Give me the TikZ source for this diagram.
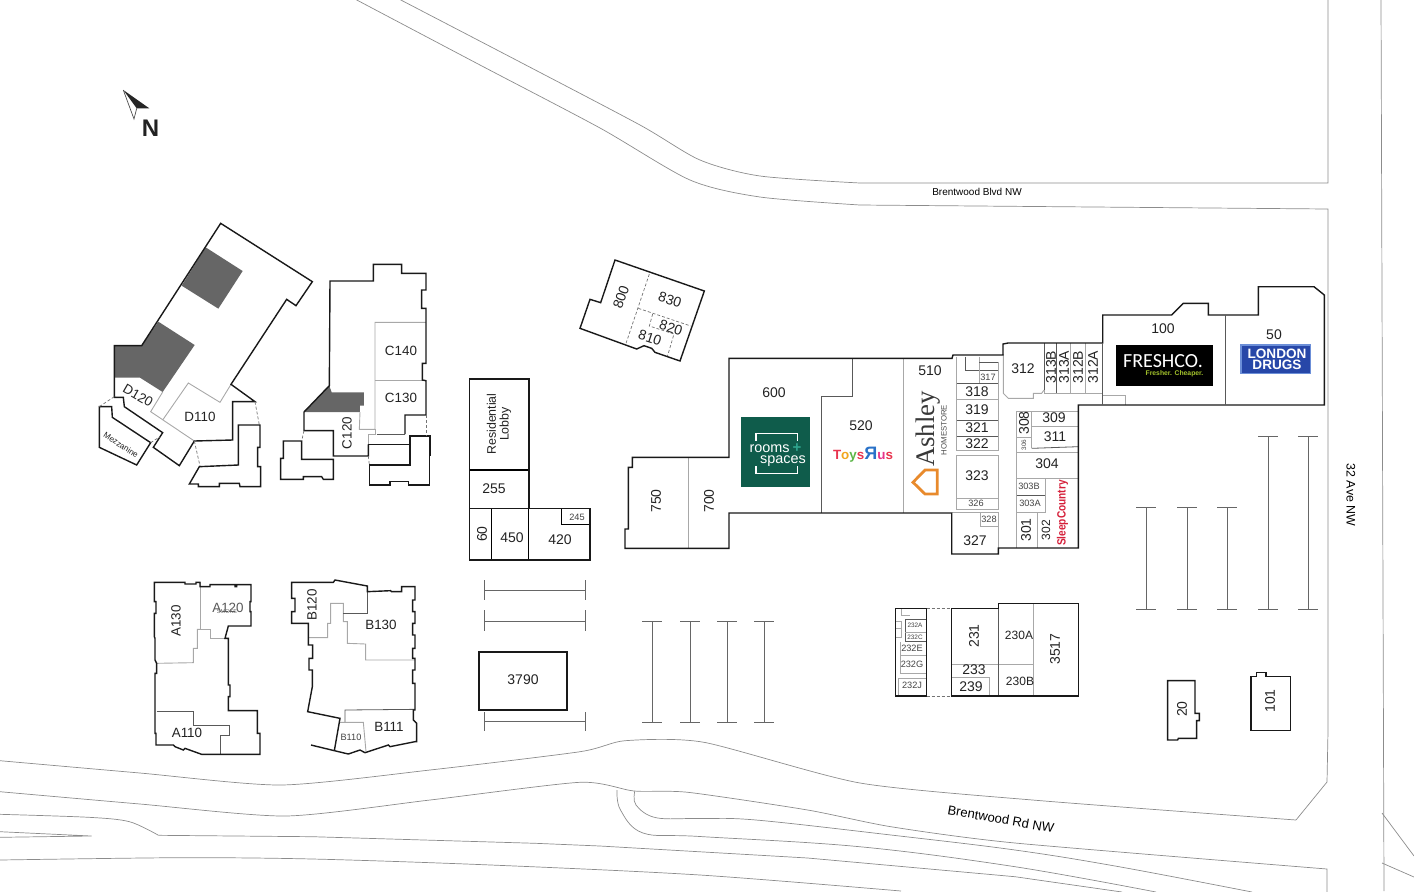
\documentclass[tikz,border=0pt]{standalone}
\usepackage{fontspec}
\usepackage{graphicx}
\setmainfont{Liberation Sans}
\newfontfamily\carl{Carlito}
\newfontfamily\srf{Liberation Serif}
\definecolor{ink}{HTML}{222222}
\definecolor{partgrey}{HTML}{A8A8A8}
\definecolor{roadgrey}{HTML}{8C8C8C}
\definecolor{darkarea}{HTML}{666666}
\definecolor{rsgreen}{HTML}{0F5C4B}
\definecolor{rsplus}{HTML}{2FA58E}
\definecolor{ldblue}{HTML}{2747A8}
\definecolor{ldedge}{HTML}{6C8FD8}
\definecolor{ashorange}{HTML}{E88A2C}
\definecolor{lime}{HTML}{A4C32C}
\definecolor{sleepred}{HTML}{D5203A}
\tikzset{
  wall/.style={draw=black!90,line width=0.7pt,line join=miter},
  wallt/.style={draw=black,line width=0.55pt},
  part/.style={draw=partgrey,line width=0.45pt},
  partd/.style={draw=black!65,line width=0.4pt},
  dashl/.style={draw=black!55,line width=0.35pt,dashed,dash pattern=on 1.5pt off 1pt},
  road/.style={draw=roadgrey,line width=0.35pt},
  bay/.style={draw=black!60,line width=0.35pt},
  lb/.style={text=ink,inner sep=0pt,font=\fontsize{7}{8}\selectfont},
  lk/.style={text=ink,inner sep=0pt,font=\fontsize{6.7}{8}\selectfont},
  lm/.style={text=ink,inner sep=0pt,font=\fontsize{6}{7}\selectfont},
  ls/.style={text=ink!85,inner sep=0pt,font=\fontsize{4.6}{5}\selectfont},
  lt/.style={text=ink!85,inner sep=0pt,font=\fontsize{3.2}{4}\selectfont},
  rd/.style={text=black,inner sep=0pt,font=\fontsize{5}{6}\selectfont},
}
\begin{document}
\begin{tikzpicture}[x=0.5pt,y=-0.5pt]
\useasboundingbox (0,0) rectangle (1414,891);
\begin{scope}
\clip (0,0) rectangle (1414,891);
% roads top
\draw[road] plot[smooth,tension=0.45] coordinates {(397,-2) (520,62) (640,125) (700,160) (760,176) (860,183)} -- (1328,183) -- (1328,0);
\draw[road] plot[smooth,tension=0.45] coordinates {(353,-2) (480,65) (600,128) (690,180) (760,197) (860,205)} -- (1328,209) -- (1328,731) -- (1327,782) -- (1296,820);
% roads bottom
\draw[road] plot[smooth,tension=0.4] coordinates {(0,760.7) (140,773) (281,785) (430,770) (580,751.7) (625,740.7) (704,742.3) (860,783) (1041,800.7) (1296,820)};
\draw[road] plot[smooth,tension=0.4] coordinates {(0,791.7) (140,804) (285.7,816) (430,800) (580,782.3) (634,791) (688,792.3) (807.7,810) (890.8,826.7) (1015,843) (1327,869)} -- (1327,892);
\draw[road] plot[smooth,tension=0.6] coordinates {(634.8,791) (636,805) (656,817.7) (700,818.5) (756,820) (891,835) (1015,850) (1119,866.7) (1252,892)};
\draw[road] plot[smooth,tension=0.6] coordinates {(617,790) (620.5,810) (643,833) (700,836.5) (859.6,846.7) (1015,866.7) (1156,892)};
\draw[road] plot[smooth,tension=0.5] coordinates {(0,814.3) (89,817.3) (129.5,821.7) (158.5,835.3)};
\draw[road] (158.5,835.3) -- (312.5,836.7) -- (535.7,843.3) -- (600,846) -- (807.7,858) -- (1015,876.7) -- (1122,892);
\draw[road] plot[smooth,tension=0.5] coordinates {(0,860) (178.6,857.7) (312.5,859) (491,865) (700,875) (901,891)};
\draw[road] (0,831.7) -- (91.5,836) -- (0,837.3);
\draw[road] (1381,0) -- (1384,891);
\draw[road] (1382,813) -- (1414,856);
\draw[road] (1382,863) -- (1414,877);
% parking bays
\foreach \y/\a/\b in {590/580/600,621/610/631,721/712/731}{
  \draw[bay] (484,\y) -- (585,\y);
  \draw[bay] (484,\a) -- (484,\b);
  \draw[bay] (585,\a) -- (585,\b);
}
\foreach \x in {652,690,727,764}{
  \draw[bay] (\x,621) -- (\x,722);
  \draw[bay] (\x-10,621) -- (\x+10,621);
  \draw[bay] (\x-10,722) -- (\x+10,722);
}
\foreach \x in {1146,1187,1227}{
  \draw[bay] (\x,507) -- (\x,609);
  \draw[bay] (\x-10,507) -- (\x+10,507);
  \draw[bay] (\x-10,609) -- (\x+10,609);
}
\foreach \x in {1268,1308}{
  \draw[bay] (\x,436) -- (\x,609);
  \draw[bay] (\x-10,436) -- (\x+10,436);
  \draw[bay] (\x-10,609) -- (\x+10,609);
}
\end{scope}
% north arrow
\fill[black!85] (123.3,90) -- (149.3,108.3) -- (136.7,108.3) -- cycle;
\draw[black!70,line width=0.35pt] (123.3,90) -- (134,119) -- (136.7,108.3);
\node[text=ink,inner sep=0pt,font=\fontsize{12}{12}\selectfont\bfseries] (north) at (150.5,128) {N};
% building D
\begin{scope}[shift={(90,210)},scale=1/3]
\fill[darkarea] (347,112) -- (458,183) -- (385,296) -- (275,227) -- cycle;
\fill[darkarea] (205,335) -- (314,405) -- (218,546) -- (150,503) -- (73,503) -- (73,407) -- (155,407) -- cycle;
\draw[part] (218,546) -- (182,605) -- (313,693);
\draw[part] (423,523) -- (390,577) -- (295,519) -- (218,630);
\draw[wall] (392,40) -- (667,215) -- (618,287) -- (590,268) -- (423,523) -- (495,575) -- (428,575) -- (428,690) -- (313,693) -- (268,767) -- (190,712) -- (218,668) -- (103,590) -- (100,562) -- (73,562) -- (73,407) -- (155,407) -- cycle;
\draw[wall] (28,590) -- (65,590) -- (67,622) -- (182,698) -- (140,765) -- (28,712) -- cycle;
\draw[dashl] (28,590) -- (73,560);
\draw[dashl] (182,698) -- (210,680);
\draw[dashl] (495,575) -- (508,645);
\draw[dashl] (313,693) -- (330,768);
\draw[wall] (445,645) -- (510,645) -- (510,712) -- (503,712) -- (503,770) -- (512,770) -- (512,830) -- (450,830) -- (448,820) -- (388,820) -- (388,830) -- (325,830) -- (325,822) -- (298,822) -- (328,770) -- (445,765) -- cycle;
% building C
\fill[darkarea] (718,527) -- (725,547) -- (822,547) -- (822,587) -- (810,587) -- (810,606) -- (642,606) -- cycle;
\draw[part] (810,606) -- (808,658) -- (855,658) -- (855,337) -- (1008,337);
\draw[part] (855,512) -- (1008,512);
\draw[part] (855,658) -- (855,672) -- (835,672) -- (835,703);
\draw[partd] (860,672) -- (945,672);
\draw[wall] (835,703) -- (835,738) -- (730,738) -- (730,662) -- (642,662) -- (642,606) -- (718,527) -- (720,213) -- (850,213) -- (850,163) -- (935,163) -- (935,190) -- (1008,190) -- (1008,240) -- (995,240) -- (995,295) -- (1008,295) -- (1008,460) -- (997,460) -- (997,510) -- (1008,512) -- (1008,615) -- (945,615) -- (945,672);
\draw[wall] (835,703) -- (960,703);
\draw[wall] (960,678) -- (1020,678) -- (1020,735) -- (1018,735) -- (1018,825) -- (955,825) -- (955,815) -- (900,815) -- (900,825) -- (838,825) -- (838,765) -- (960,765) -- cycle;
\draw[wall] (580,693) -- (635,693) -- (635,748) -- (730,748) -- (730,808) -- (700,808) -- (695,800) -- (640,800) -- (640,808) -- (572,808) -- (572,745) -- (580,745) -- cycle;
\draw[dashl] (642,662) -- (635,693);
\draw[dashl] (835,738) -- (838,765);
\draw[dashl] (1008,615) -- (1008,678);
\end{scope}
% buildings A and B
\begin{scope}[shift={(140,570)},scale=1/3]
\draw[part] (180,37) -- (180,178) -- (210,178) -- (210,205) -- (255,205);
\draw[part] (180,178) -- (172,178) -- (172,235) -- (160,235) -- (160,278) -- (48,280);
\draw[partd] (50,423) -- (160,423) -- (160,465) -- (268,465) -- (268,495) -- (242,495) -- (242,553);
\draw[wall] (43,37) -- (135,37) -- (135,42) -- (168,42) -- (168,37) -- (180,37) -- (180,50) -- (210,50) -- (210,44) -- (285,44) -- (285,50) -- (290,50) -- (290,44) -- (333,44) -- (333,95) -- (330,95) -- (330,125) -- (333,125) -- (333,168) -- (265,168) -- (255,205) -- (265,205) -- (265,345) -- (270,345) -- (270,380) -- (265,380) -- (265,422) -- (352,422) -- (352,490) -- (360,490) -- (360,553) -- (185,553) -- (135,535) -- (130,540) -- (105,530) -- (100,525) -- (48,525) -- (48,490) -- (45,490) -- (45,310) -- (50,310) -- (50,280) -- (45,270) -- (45,205) -- (43,200) -- (43,130) -- (48,130) -- (48,95) -- (43,95) -- cycle;
\draw[part] (505,203) -- (563,203) -- (563,160) -- (572,160) -- (572,100) -- (610,100) -- (610,155) -- (622,155) -- (622,220) -- (677,222) -- (677,270) -- (825,270);
\draw[partd] (610,130) -- (682,130) -- (682,65);
\draw[partd] (615,457) -- (615,420) -- (825,418);
\draw[part] (600,457) -- (670,457) -- (678,545);
\draw[wall] (513,525) -- (583,542) -- (625,552) -- (660,540) -- (675,548) -- (745,525) -- (750,530) -- (825,515) -- (830,515) -- (830,460) -- (820,450) -- (820,420) -- (825,420) -- (825,340) -- (818,340) -- (818,300) -- (825,300) -- (825,265) -- (818,265) -- (818,235) -- (825,235) -- (825,195) -- (818,195) -- (818,160) -- (825,160) -- (825,125) -- (818,125) -- (818,90) -- (825,90) -- (825,50) -- (785,50) -- (785,65) -- (755,65) -- (752,62) -- (682,65) -- (682,48) -- (585,30) -- (580,37) -- (455,37) -- (455,85) -- (465,85) -- (465,125) -- (455,125) -- (455,160) -- (505,160) -- (505,225) -- (518,225) -- (518,265) -- (507,265) -- (507,300) -- (517,300) -- (517,350) -- (503,425) -- (600,445) -- (583,542);
\end{scope}
% building 800
\begin{scope}[shift={(570,250)},scale=1/3]
\draw[dashl] (238,72) -- (168,280);
\draw[dashl] (205,175) -- (362,228);
\draw[dashl] (248,192) -- (238,228) -- (312,252) -- (292,320);
\draw[wall] (135,30) -- (403,123) -- (330,333) -- (255,307) -- (245,295) -- (222,287) -- (200,297) -- (30,235) -- (60,148) -- (92,158) -- cycle;
\end{scope}
% lobby cluster
\begin{scope}[shift={(460,250)},scale=1/3]
\draw[wallt] (28,660) -- (207,660);
\draw[wallt] (95,775) -- (95,930);
\draw[wallt] (205,775) -- (205,930);
\draw[wallt] (304,775) -- (304,823) -- (390,823);
\draw[wall] (28,387) -- (207,387) -- (207,775) -- (390,775) -- (390,930) -- (28,930) -- cycle;
\draw[wall] (28,775) -- (207,775);
\end{scope}
\draw[wall] (479,652) rectangle (567,710);
% main building interior
\draw[part] (688,457) -- (688,548);
\draw[partd] (852.3,358) -- (852.3,396) -- (821.7,396) -- (821.7,513);
\draw[part] (903.7,358) -- (903.7,513);
\begin{scope}[shift={(940,330)},scale=1/3]
\draw[part] (50,80) -- (50,362) -- (175,362) -- (175,97);
\draw[part] (50,377) -- (50,538) -- (175,538) -- (175,377) -- cycle;
\draw[part] (50,208) -- (175,208);
\draw[partd] (50,160) -- (175,160);
\draw[partd] (50,270) -- (175,270);
\draw[partd] (50,320) -- (175,320);
\draw[part] (50,505) -- (175,505);
\draw[partd] (75,80) -- (75,122) -- (175,122);
\draw[part] (118,80) -- (118,160);
\draw[partd] (118,97) -- (175,97);
\draw[part] (190,72) -- (190,190) -- (205,205) -- (280,205) -- (280,190) -- (305,190) -- (312,180);
\draw[part] (312,40) -- (312,190) -- (490,190);
\draw[partd] (312,40) -- (312,180);
\draw[partd] (348,40) -- (348,190);
\draw[part] (390,40) -- (390,190);
\draw[part] (435,40) -- (435,190);
\draw[part] (487,40) -- (487,195) -- (555,195) -- (555,225);
\draw[part] (230,243) -- (415,243);
\draw[part] (230,243) -- (230,655);
\draw[part] (275,243) -- (275,355);
\draw[part] (275,290) -- (415,290);
\draw[part] (230,323) -- (275,323);
\draw[part] (230,367) -- (415,367);
\draw[partd] (275,355) -- (415,350);
\draw[part] (230,445) -- (415,445);
\draw[partd] (230,495) -- (317,495);
\draw[part] (317,445) -- (317,548) -- (230,548);
\draw[part] (292,548) -- (292,655);
\draw[part] (35,548) -- (175,548) -- (175,655);
\draw[part] (122,548) -- (122,590) -- (175,590);
\end{scope}
\draw[wall] (729,358.3) -- (952,358.3) -- (953,355) -- (1003,355) -- (1003,344) -- (1008,343) -- (1102.7,343) -- (1102.7,315) -- (1171.7,315) -- (1183.3,303.3) -- (1208.3,303.3) -- (1208.3,315) -- (1258.3,315) -- (1258.3,286.7) -- (1314,286.7) -- (1324.3,295) -- (1324.3,405) -- (1078.3,405) -- (1078.3,548) -- (998.3,548) -- (998.3,554) -- (951.7,554) -- (951.7,513) -- (729,513) -- (729,548.3) -- (625,548.3) -- (625,529) -- (628.3,529) -- (628.3,467.3) -- (632.3,467.3) -- (632.3,457.3) -- (729,457.3) -- cycle;
\draw[partd] (1225.5,315) -- (1225.5,405);
\draw[partd] (1102.7,343) -- (1102.7,405);
% south cluster
\begin{scope}[shift={(885,595)},scale=1/3]
\draw[partd] (60,72) -- (125,72);
\draw[partd] (60,72) -- (60,140) -- (125,140);
\draw[part] (60,112) -- (125,112);
\draw[part] (45,142) -- (45,180) -- (125,180);
\draw[part] (45,180) -- (45,235) -- (125,235);
\draw[part] (40,250) -- (125,250);
\draw[part] (40,250) -- (40,303);
\draw[part] (50,40) -- (50,62) -- (75,62);
\draw[part] (32,78) -- (48,78) -- (48,128) -- (32,128);
\draw[part] (32,100) -- (48,100);
\draw[wall] (32,40) rectangle (125,303);
\draw[dashl] (125,40) -- (200,40);
\draw[dashl] (125,303) -- (200,303);
\draw[part] (445,25) -- (445,303);
\draw[part] (200,207) -- (445,207);
\draw[part] (200,247) -- (312,247) -- (312,303);
\draw[partd] (340,25) -- (340,303);
\draw[wall] (200,40) -- (340,40) -- (340,25) -- (580,25) -- (580,303) -- (200,303) -- cycle;
\end{scope}
\begin{scope}[shift={(1150,660)},scale=1/3]
\draw[wall] (53,62) -- (135,62) -- (135,160) -- (148,160) -- (148,182) -- (140,182) -- (140,235) -- (85,235) -- (83,240) -- (53,240) -- cycle;
\draw[wall] (303,50) -- (320,50) -- (320,38) -- (348,38) -- (348,50) -- (421,50) -- (421,212) -- (303,212) -- cycle;
\end{scope}
% logos
\fill[rsgreen] (741,417) rectangle (810,487);
\draw[white,line width=0.55pt] (756,440.5) -- (756,433.3) -- (797.3,433.3) -- (797.3,440.5);
\draw[white,line width=0.55pt] (756,466) -- (756,473.5) -- (797.3,473.5) -- (797.3,466);
\node[text=white,inner sep=0pt,font=\fontsize{7.2}{8}\selectfont] (rsa) at (769.5,449) {rooms};
\node[text=rsplus,inner sep=0pt,font=\fontsize{7.5}{8}\selectfont\bfseries] (rsb) at (797,448) {+};
\node[text=white,inner sep=0pt,font=\fontsize{7.2}{8}\selectfont] (rsc) at (783,461) {spaces};
\node[inner sep=0pt,font=\fontsize{6.7}{7}\selectfont\bfseries] (toys) at (863,455) {\textcolor[HTML]{E8344E}{T}\textcolor[HTML]{F2A51E}{o}\textcolor[HTML]{5CB548}{y}\textcolor[HTML]{E8344E}{s}\textcolor[HTML]{2A72C8}{\fontsize{9}{7}\selectfont\reflectbox{R}}\textcolor[HTML]{E8348A}{u}\textcolor[HTML]{E8344E}{s}};
\node[rotate=90,text=black!78,inner sep=0pt,font=\fontsize{13.4}{14}\selectfont\srf] (ash) at (928,429) {Ashley};
\node[rotate=90,text=black!70,inner sep=0pt,font=\fontsize{3.9}{4}\selectfont] (homestore) at (944,430) {HOMESTORE};
\draw[ashorange,line width=1.4pt,line join=miter] (913,482.3) -- (925,470) -- (937.3,470) -- (937.3,494) -- (925,494) -- cycle;
\fill[black] (1116,344.5) rectangle (1212.5,386);
\node[text=white,inner sep=0pt,font=\fontsize{10}{11}\selectfont\carl] (fresh) at (1163,361) {FRESHCO.};
\node[text=lime,inner sep=0pt,font=\fontsize{3.4}{4}\selectfont\bfseries] (cheaper) at (1174.5,373.5) {Fresher. Cheaper.};
\draw[fill=ldblue,draw=ldedge,line width=0.7pt] (1241,345) rectangle (1310.5,373.5);
\node[text=white,inner sep=0pt,align=center,font=\fontsize{6.8}{5.4}\selectfont\bfseries] (london) at (1277,359.5) {LONDON\\DRUGS};
\node[rotate=90,text=sleepred,inner sep=0pt,font=\fontsize{6}{6}\selectfont\bfseries] (sleep) at (1062.5,513) {\scalebox{.84}[1]{SleepCountry}};
% labels
\node[rd] (r1) at (977,192) {Brentwood Blvd NW};
\node[rd,rotate=-90,font=\fontsize{6.2}{7}\selectfont] (r2) at (1351,495) {32 Ave NW};
\node[rd,rotate=-10,font=\fontsize{6.5}{7}\selectfont] (r3) at (1001,819) {Brentwood Rd NW};
\node[lk,rotate=-30] (d120) at (138,395.5) {D120};
\node[lk] (d110) at (200,417) {D110};
\node[text=ink,inner sep=0pt,rotate=-33,font=\fontsize{4.1}{4}\selectfont] (mezz) at (121,445) {Mezzanine};
\node[lk] (c140) at (401,351) {C140};
\node[lk] (c130) at (401,398) {C130};
\node[lk,rotate=90] (c120) at (347,433) {C120};
\node[lk,rotate=90] (a130) at (176,621) {A130};
\node[lk,text=ink!75] (a120) at (228,608) {A120};
\node[text=ink!70,inner sep=0pt,font=\fontsize{2.8}{3}\selectfont] (smoke) at (227,612) {SMOKE};
\node[lk] (a110) at (187,733) {A110};
\node[lk,rotate=90] (b120) at (312,605) {B120};
\node[lk] (b130) at (381,625) {B130};
\node[ls] (b110) at (351,737) {B110};
\node[lk] (b111) at (389,727) {B111};
\node[lm,rotate=90,align=center,font=\fontsize{6.2}{6.4}\selectfont] (lobby) at (499,424) {Residential\\Lobby};
\node[lb] (u255) at (494,489) {255};
\node[lb,rotate=90] (u60) at (482,534) {60};
\node[lb] (u450) at (512,538) {450};
\node[lb] (u420) at (560,540) {420};
\node[ls] (u245) at (577,517) {245};
\node[lb,rotate=70] (u800) at (621,297) {800};
\node[lb,rotate=-18] (u830) at (670,300) {830};
\node[lb,rotate=-18] (u820) at (671,328) {820};
\node[lb,rotate=-18] (u810) at (650,338) {810};
\node[lb,rotate=90] (u750) at (656,501) {750};
\node[lb,rotate=90] (u700) at (709,501) {700};
\node[lb] (u600) at (774,393) {600};
\node[lb] (u520) at (861,426) {520};
\node[lb] (u510) at (930,371) {510};
\node[ls] (u317) at (988,377) {317};
\node[lb] (u318) at (977,392) {318};
\node[lb] (u319) at (977,410) {319};
\node[lb] (u321) at (977,428) {321};
\node[lb] (u322) at (977,444) {322};
\node[lb] (u323) at (977,476) {323};
\node[ls] (u326) at (976,503) {326};
\node[ls] (u328) at (989,519) {328};
\node[lb] (u327) at (975,541) {327};
\node[lb] (u312) at (1023,369) {312};
\node[lb,rotate=90] (u313b) at (1051,367) {313B};
\node[lb,rotate=90] (u313a) at (1064,367) {313A};
\node[lb,rotate=90] (u312b) at (1078,367) {312B};
\node[lb,rotate=90] (u312a) at (1093,367) {312A};
\node[lb,rotate=90] (u308) at (1024,423) {308};
\node[lt,rotate=90] (u306) at (1024,445) {306};
\node[lb] (u309) at (1054,418) {309};
\node[lb] (u311) at (1055,437) {311};
\node[lb] (u304) at (1047,464) {304};
\node[ls] (u303b) at (1029,486) {303B};
\node[ls] (u303a) at (1030,503) {303A};
\node[lb,rotate=90] (u301) at (1026,530) {301};
\node[lm,rotate=90] (u302) at (1046,530) {302};
\node[lb] (u100) at (1163,329) {100};
\node[lb] (u50) at (1274,335) {50};
\node[lb] (u3790) at (523,680) {3790};
\node[lb,rotate=90] (u231) at (974,636) {231};
\node[lb] (u233) at (974,670) {233};
\node[lb] (u239) at (971,687) {239};
\node[lm] (u230a) at (1019,635) {230A};
\node[lm] (u230b) at (1020,681) {230B};
\node[lb,rotate=90] (u3517) at (1055,649) {3517};
\node[lt] (u232a) at (915,625) {232A};
\node[lt] (u232c) at (915,637) {232C};
\node[ls] (u232e) at (912,648) {232E};
\node[ls] (u232g) at (912,664) {232G};
\node[ls] (u232j) at (912,685) {232J};
\node[lb,rotate=90] (u20) at (1182,709) {20};
\node[lb,rotate=90] (u101) at (1270,701) {101};
\end{tikzpicture}
\end{document}
